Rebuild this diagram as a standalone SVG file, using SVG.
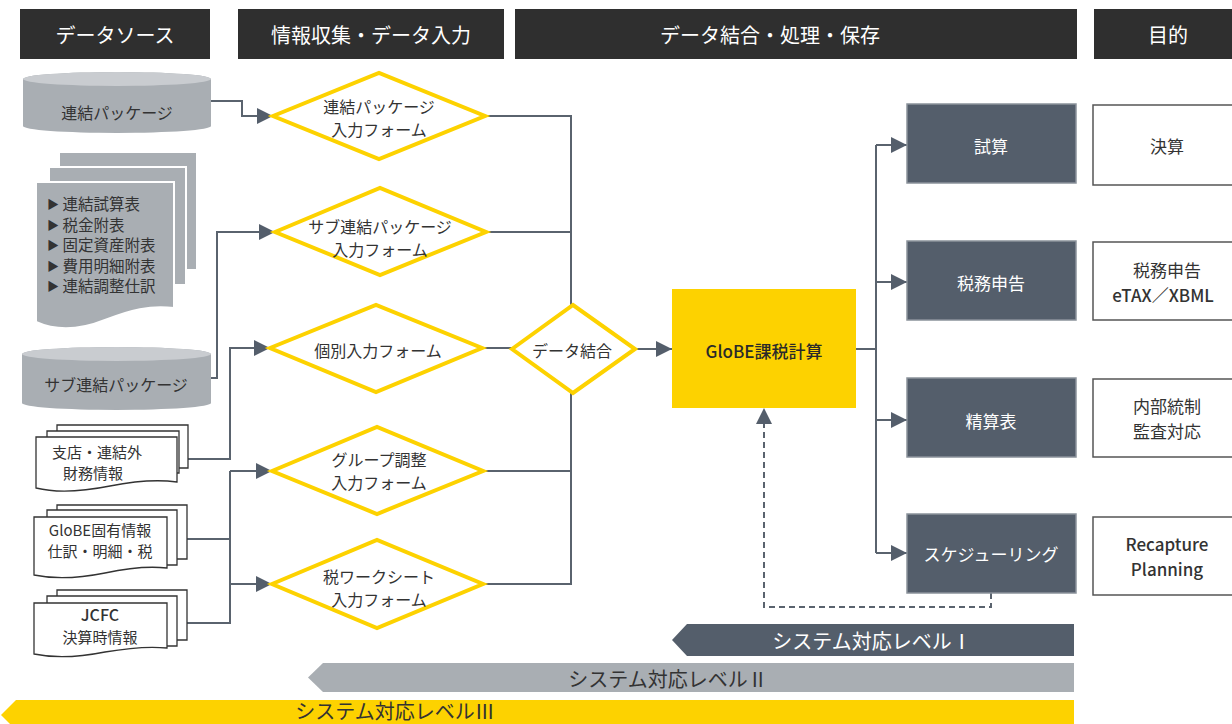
<svg xmlns="http://www.w3.org/2000/svg" width="1232" height="724" viewBox="0 0 1232 724">
<defs>
<style>
text{font-family:"Noto Sans CJK JP","Noto Sans",sans-serif;fill:#333;dominant-baseline:central;text-anchor:middle}
.hdr{fill:#2f2f2f}
.ht{fill:#fff;font-size:20px}
.dia{fill:#fff;stroke:#fdd200;stroke-width:4;stroke-linejoin:miter}
.dt{font-size:16px}
.dt2{font-size:15px}
.conn{fill:none;stroke:#5a636e;stroke-width:2}
.slate{fill:#545e6b;stroke:#8b929b;stroke-width:1.5}
.st{fill:#fff;font-size:17px}
.wbox{fill:#fff;stroke:#555;stroke-width:1.5}
.wt{font-size:17px}
.cylb{fill:#a9aeb3}
.cylt{fill:#c9ccd0}
.gdoc{fill:#a9aeb3;stroke:#fff;stroke-width:2}
.wdoc{fill:#fff;stroke:#333;stroke-width:1.3}
.lt{font-size:15.5px;text-anchor:start}
.lv{font-size:20px}
.lvw{font-size:20px;fill:#fff}
.gt{font-size:17px;font-weight:500;fill:#2a2a2a}
</style>
<marker id="ah" markerUnits="userSpaceOnUse" markerWidth="18" markerHeight="18" refX="16" refY="8" orient="auto">
<path d="M0,0 L16,8 L0,16 z" fill="#545e6b"/>
</marker>
</defs>

<g id="headers">
<rect class="hdr" x="20" y="9" width="190" height="50"/>
<text class="ht" x="115" y="34">データソース</text>
<rect class="hdr" x="238" y="9" width="266" height="50"/>
<text class="ht" x="371" y="34">情報収集・データ入力</text>
<rect class="hdr" x="515" y="9" width="562" height="50"/>
<text class="ht" x="770" y="34">データ結合・処理・保存</text>
<rect class="hdr" x="1094" y="9" width="140" height="50"/>
<text class="ht" x="1168" y="34">目的</text>
</g>

<g id="connectors">
<path class="conn" d="M211,101 H242 V116 H273" marker-end="url(#ah)"/>
<path class="conn" d="M211,378 H217 V232 H275" marker-end="url(#ah)"/>
<path class="conn" d="M188,459 H230 V348 H270" marker-end="url(#ah)"/>
<path class="conn" d="M187,539 H230"/>
<path class="conn" d="M187,623 H230 V471"/>
<path class="conn" d="M230,471 H272" marker-end="url(#ah)"/>
<path class="conn" d="M230,584 H272" marker-end="url(#ah)"/>
<path class="conn" d="M485,116 H571 V305"/>
<path class="conn" d="M486,232 H571"/>
<path class="conn" d="M482,348 H512"/>
<path class="conn" d="M483,471 H571 V393"/>
<path class="conn" d="M483,584 H571 V471"/>
<path class="conn" d="M635,349 H672" stroke-width="4" marker-end="url(#ah)"/>
<path class="conn" d="M856,349 H876"/>
<path class="conn" d="M876,145 V553"/>
<path class="conn" d="M876,145 H907" marker-end="url(#ah)"/>
<path class="conn" d="M876,282 H907" marker-end="url(#ah)"/>
<path class="conn" d="M876,420 H907" marker-end="url(#ah)"/>
<path class="conn" d="M876,553 H907" marker-end="url(#ah)"/>
<path class="conn" d="M991,593 V607 H764 V408" stroke-dasharray="6 4" marker-end="url(#ah)"/>
</g>

<g id="src-renketsu">
<path class="cylb" d="M23,79 A94,7 0 0 1 211,79 L211,126 A94,7 0 0 1 23,126 Z"/>
<ellipse class="cylt" cx="117" cy="79" rx="94" ry="7"/>
<text class="dt" x="117" y="112">連結パッケージ</text>
</g>

<g id="src-list">
<rect class="gdoc" x="59" y="152" width="138" height="118"/>
<rect class="gdoc" x="49" y="167" width="137" height="118"/>
<path class="gdoc" d="M36,182 H174 V308 C150,305 130,310 105,320 C80,330 58,332 36,322 Z"/>
<text class="lt" x="47" y="203"><tspan font-size="12">▶</tspan> 連結試算表</text>
<text class="lt" x="47" y="223.5"><tspan font-size="12">▶</tspan> 税金附表</text>
<text class="lt" x="47" y="244"><tspan font-size="12">▶</tspan> 固定資産附表</text>
<text class="lt" x="47" y="264.5"><tspan font-size="12">▶</tspan> 費用明細附表</text>
<text class="lt" x="47" y="285"><tspan font-size="12">▶</tspan> 連結調整仕訳</text>
</g>

<g id="src-sub">
<path class="cylb" d="M22,354 A94.5,7 0 0 1 211,354 L211,403 A94.5,7 0 0 1 22,403 Z"/>
<ellipse class="cylt" cx="116.5" cy="354" rx="94.5" ry="7"/>
<text class="dt" x="116" y="384">サブ連結パッケージ</text>
</g>

<g id="src-shiten">
<path class="wdoc" d="M57,425 H188 V468 H57 Z"/>
<path class="wdoc" d="M47,431 H179 V473 H47 Z"/>
<path class="wdoc" d="M36,437 H177 V482 C155,479 135,481 110,486 C85,491 60,494 36,488 Z"/>
<text class="dt2" x="97" y="451">支店・連結外</text>
<text class="dt2" x="93" y="472">財務情報</text>
</g>

<g id="src-globe">
<path class="wdoc" d="M57,505 H187 V559 H57 Z"/>
<path class="wdoc" d="M47,510 H177 V565 H47 Z"/>
<path class="wdoc" d="M34,517 H167 V568 C148,566 128,568 105,573 C80,578 58,580 34,575 Z"/>
<text class="dt2" x="100" y="529">GloBE固有情報</text>
<text class="dt2" x="100" y="550">仕訳・明細・税</text>
</g>

<g id="src-jcfc">
<path class="wdoc" d="M57,590 H187 V640 H57 Z"/>
<path class="wdoc" d="M47,596 H177 V646 H47 Z"/>
<path class="wdoc" d="M34,603 H167 V648 C148,646 128,648 105,652 C80,657 58,659 34,654 Z"/>
<text class="dt" x="100" y="614" font-weight="500">JCFC</text>
<text class="dt2" x="100" y="636">決算時情報</text>
</g>

<g id="form-renketsu">
<polygon class="dia" points="273,116 379,73 485,116 379,159"/>
<text class="dt" x="379" y="106">連結パッケージ</text>
<text class="dt" x="379" y="129">入力フォーム</text>
</g>
<g id="form-sub">
<polygon class="dia" points="275,232 380,188 486,232 380,275"/>
<text class="dt" x="380" y="226">サブ連結パッケージ</text>
<text class="dt" x="380" y="249">入力フォーム</text>
</g>
<g id="form-kobetsu">
<polygon class="dia" points="270,348 376,305 482,348 376,392"/>
<text class="dt" x="378" y="350">個別入力フォーム</text>
</g>
<g id="form-group">
<polygon class="dia" points="272,471 377,427 483,471 377,514"/>
<text class="dt" x="379" y="459">グループ調整</text>
<text class="dt" x="379" y="482">入力フォーム</text>
</g>
<g id="form-tax">
<polygon class="dia" points="272,584 377,540 483,584 377,628"/>
<text class="dt" x="379" y="576">税ワークシート</text>
<text class="dt" x="379" y="599">入力フォーム</text>
</g>
<g id="merge">
<polygon class="dia" points="512,349 573,305 635,349 573,393"/>
<text class="dt" x="572" y="350">データ結合</text>
</g>

<g id="globe-calc">
<rect x="672" y="289" width="184" height="119" fill="#fdd200"/>
<text class="gt" x="764" y="350">GloBE課税計算</text>
</g>

<g id="out-shisan">
<rect class="slate" x="907" y="104" width="169" height="79"/>
<text class="st" x="991" y="145">試算</text>
</g>
<g id="out-shinkoku">
<rect class="slate" x="907" y="241" width="169" height="79"/>
<text class="st" x="991" y="282">税務申告</text>
</g>
<g id="out-seisan">
<rect class="slate" x="907" y="378" width="169" height="79"/>
<text class="st" x="991" y="420">精算表</text>
</g>
<g id="out-schedule">
<rect class="slate" x="907" y="514" width="169" height="79"/>
<text class="st" x="991" y="553">スケジューリング</text>
</g>

<g id="purpose-kessan">
<rect class="wbox" x="1093" y="105" width="145" height="80"/>
<text class="wt" x="1167" y="145">決算</text>
</g>
<g id="purpose-shinkoku">
<rect class="wbox" x="1093" y="242" width="145" height="78"/>
<text class="wt" x="1167" y="269">税務申告</text>
<text class="wt" x="1163" y="294" font-weight="500">eTAX／XBML</text>
</g>
<g id="purpose-naibu">
<rect class="wbox" x="1093" y="379" width="145" height="78"/>
<text class="wt" x="1167" y="405">内部統制</text>
<text class="wt" x="1167" y="430">監査対応</text>
</g>
<g id="purpose-recapture">
<rect class="wbox" x="1093" y="517" width="145" height="78"/>
<text class="wt" x="1167" y="543" font-weight="500">Recapture</text>
<text class="wt" x="1167" y="568" font-weight="500">Planning</text>
</g>

<g id="level1">
<polygon points="687,624 1074,624 1074,656 687,656 672,640" fill="#545e6b"/>
<text class="lvw" x="872" y="640">システム対応レベルⅠ</text>
</g>
<g id="level2">
<polygon points="323,663 1074,663 1074,692 323,692 308,677.5" fill="#a9aeb3"/>
<text class="lv" x="668" y="678">システム対応レベルⅡ</text>
</g>
<g id="level3">
<polygon points="16,700 1074,700 1074,730 16,730 1,715" fill="#fdd200"/>
<text class="lv" x="395" y="710" font-size="19">システム対応レベルⅢ</text>
</g>
</svg>
